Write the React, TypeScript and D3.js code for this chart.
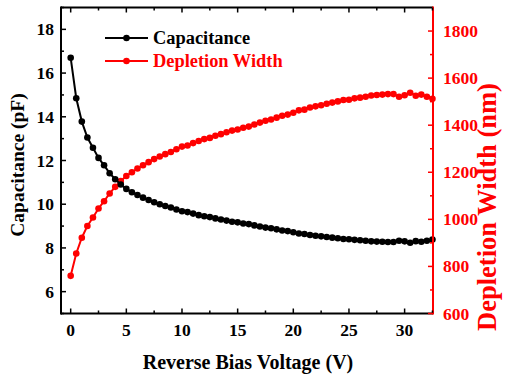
import React from "react";
import * as d3 from "d3";

const voltage: number[] = [
  0, 0.5, 1, 1.5, 2, 2.5, 3, 3.5, 4, 4.5, 5, 5.5, 6, 6.5, 7, 7.5, 8, 8.5, 9, 9.5,
  10, 10.5, 11, 11.5, 12, 12.5, 13, 13.5, 14, 14.5, 15, 15.5, 16, 16.5, 17, 17.5,
  18, 18.5, 19, 19.5, 20, 20.5, 21, 21.5, 22, 22.5, 23, 23.5, 24, 24.5, 25, 25.5,
  26, 26.5, 27, 27.5, 28, 28.5, 29, 29.5, 30, 30.5, 31, 31.5, 32, 32.5,
];

const capacitance: number[] = [
  16.7, 14.85, 13.78, 13.05, 12.58, 12.12, 11.78, 11.42, 11.14, 10.9, 10.7, 10.55,
  10.42, 10.3, 10.19, 10.09, 10.0, 9.92, 9.85, 9.76, 9.68, 9.64, 9.57, 9.5, 9.45,
  9.41, 9.35, 9.3, 9.25, 9.2, 9.17, 9.12, 9.09, 9.03, 8.98, 8.93, 8.9, 8.85, 8.8,
  8.77, 8.72, 8.66, 8.64, 8.59, 8.56, 8.53, 8.5, 8.47, 8.44, 8.41, 8.4, 8.37, 8.35,
  8.33, 8.3, 8.29, 8.28, 8.27, 8.27, 8.33, 8.3, 8.24, 8.31, 8.28, 8.33, 8.38,
];

const depletionWidth: number[] = [
  760, 855, 922, 972, 1008, 1046, 1077, 1110, 1138, 1163, 1184, 1200, 1216, 1230,
  1243, 1256, 1267, 1277, 1286, 1298, 1309, 1314, 1324, 1333, 1341, 1346, 1355,
  1362, 1370, 1377, 1382, 1389, 1394, 1403, 1411, 1419, 1424, 1432, 1440, 1445,
  1453, 1463, 1466, 1475, 1480, 1485, 1491, 1496, 1501, 1507, 1508, 1514, 1517,
  1521, 1526, 1528, 1530, 1532, 1532, 1521, 1527, 1538, 1525, 1530, 1521, 1512,
];

const xTicks: number[] = [0, 5, 10, 15, 20, 25, 30];
const xMinorTicks: number[] = [2.5, 7.5, 12.5, 17.5, 22.5, 27.5, 32.5];
const leftTicks: number[] = [6, 8, 10, 12, 14, 16, 18];
const leftMinorTicks: number[] = [5, 7, 9, 11, 13, 15, 17, 19];
const rightTicks: number[] = [600, 800, 1000, 1200, 1400, 1600, 1800];
const rightMinorTicks: number[] = [700, 900, 1100, 1300, 1500, 1700];

const xTitle = "Reverse Bias Voltage (V)";
const leftTitle = "Capacitance (pF)";
const rightTitle = "Depletion Width (nm)";
const legendLabels: string[] = ["Capacitance", "Depletion Width"];

const RED = "#ff0000";
const FONT =
  '"Liberation Serif", Tinos, "Times New Roman", Times, "Nimbus Roman", "DejaVu Serif", serif';

export default function App() {
  const L = 61, R = 433, T = 7.5, B = 313.5;
  const x = d3.scaleLinear().domain([-0.87, 32.55]).range([L, R]);
  const yL = d3.scaleLinear().domain([5, 19]).range([B, T]);
  const yR = d3.scaleLinear().domain([600, 1900]).range([B, T]);

  const capData = voltage.map((v, i) => [v, capacitance[i]] as [number, number]);
  const wData = voltage.map((v, i) => [v, depletionWidth[i]] as [number, number]);
  const capLine = d3.line<[number, number]>().x((d) => x(d[0])).y((d) => yL(d[1]));
  const wLine = d3.line<[number, number]>().x((d) => x(d[0])).y((d) => yR(d[1]));

  const major = 5, minor = 3;
  const tickFs = 17.5;

  return (
    <svg
      width={505}
      height={378}
      style={{ position: "absolute", left: 0, top: 0, background: "#fff", fontFamily: FONT, fontWeight: 700 }}
    >
      <rect x={0} y={0} width={505} height={378} fill="#fff" />
      {/* data */}
      <path d={wLine(wData) || ""} fill="none" stroke={RED} strokeWidth={2} />
      {wData.map((d, i) => (
        <circle key={"w" + i} cx={x(d[0])} cy={yR(d[1])} r={3.3} fill={RED} />
      ))}
      <path d={capLine(capData) || ""} fill="none" stroke="#000" strokeWidth={2} />
      {capData.map((d, i) => (
        <circle key={"c" + i} cx={x(d[0])} cy={yL(d[1])} r={3.3} fill="#000" />
      ))}

      {/* frame */}
      <line x1={L} x2={R} y1={T} y2={T} stroke="#000" strokeWidth={2} />
      <line x1={L} x2={R} y1={B} y2={B} stroke="#000" strokeWidth={2} />
      <line x1={L} x2={L} y1={T - 1} y2={B + 1} stroke="#000" strokeWidth={2} />
      <line x1={R} x2={R} y1={T - 1} y2={B + 1} stroke={RED} strokeWidth={2} />

      {/* x ticks */}
      {xTicks.map((t) => (
        <g key={"xt" + t}>
          <line x1={x(t)} x2={x(t)} y1={B} y2={B - major} stroke="#000" strokeWidth={1.5} />
          <line x1={x(t)} x2={x(t)} y1={T} y2={T + major} stroke="#000" strokeWidth={1.5} />
          <text x={x(t)} y={336} fontSize={tickFs} textAnchor="middle" fill="#000">
            {t}
          </text>
        </g>
      ))}
      {xMinorTicks.map((t) => (
        <g key={"xm" + t}>
          <line x1={x(t)} x2={x(t)} y1={B} y2={B - minor} stroke="#000" strokeWidth={1.5} />
          <line x1={x(t)} x2={x(t)} y1={T} y2={T + minor} stroke="#000" strokeWidth={1.5} />
        </g>
      ))}

      {/* left ticks */}
      {leftTicks.map((t) => (
        <g key={"lt" + t}>
          <line x1={L} x2={L + major} y1={yL(t)} y2={yL(t)} stroke="#000" strokeWidth={1.5} />
          <text x={54} y={yL(t) + 6} fontSize={tickFs} textAnchor="end" fill="#000">
            {t}
          </text>
        </g>
      ))}
      {leftMinorTicks.map((t) => (
        <line key={"lm" + t} x1={L} x2={L + minor} y1={yL(t)} y2={yL(t)} stroke="#000" strokeWidth={1.5} />
      ))}

      {/* right ticks */}
      {rightTicks.map((t) => (
        <g key={"rt" + t}>
          <line x1={R} x2={R - major} y1={yR(t)} y2={yR(t)} stroke={RED} strokeWidth={1.5} />
          <text x={443} y={yR(t) + 6} fontSize={tickFs} textAnchor="start" fill={RED}>
            {t}
          </text>
        </g>
      ))}
      {rightMinorTicks.map((t) => (
        <line key={"rm" + t} x1={R} x2={R - minor} y1={yR(t)} y2={yR(t)} stroke={RED} strokeWidth={1.5} />
      ))}

      {/* titles */}
      <text x={248} y={369} fontSize={20} textAnchor="middle" fill="#000">
        {xTitle}
      </text>
      <text
        transform={`translate(24, 165) rotate(-90)`}
        fontSize={19.5}
        textAnchor="middle"
        fill="#000"
      >
        {leftTitle}
      </text>
      <text
        transform={`translate(496, 207) rotate(-90)`}
        fontSize={26.5}
        textAnchor="middle"
        fill={RED}
      >
        {rightTitle}
      </text>

      {/* legend */}
      <g>
        <line x1={105} x2={148} y1={38} y2={38} stroke="#000" strokeWidth={2} />
        <circle cx={126.5} cy={38} r={3.3} fill="#000" />
        <text x={153} y={44} fontSize={18.4} fill="#000">
          {legendLabels[0]}
        </text>
        <line x1={105} x2={148} y1={61} y2={61} stroke={RED} strokeWidth={2} />
        <circle cx={126.5} cy={61} r={3.3} fill={RED} />
        <text x={153} y={67} fontSize={18.4} fill={RED}>
          {legendLabels[1]}
        </text>
      </g>
    </svg>
  );
}
